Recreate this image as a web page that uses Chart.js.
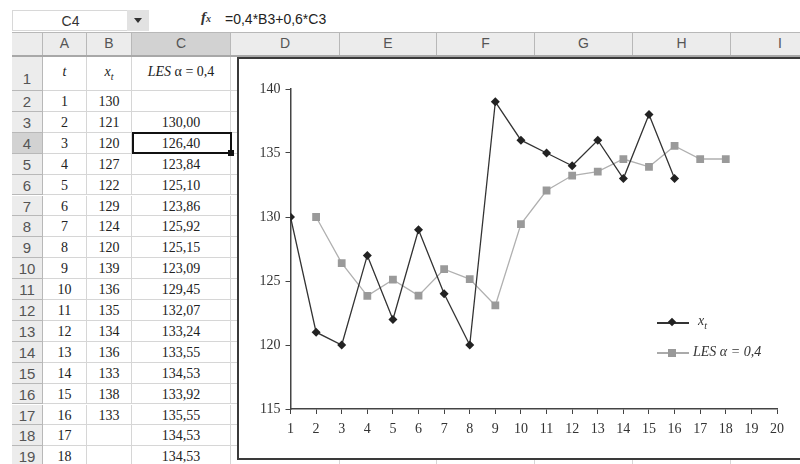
<!DOCTYPE html>
<html>
<head>
<meta charset="utf-8">
<script src="https://cdn.jsdelivr.net/npm/chart.js@4"></script>
<style>
    html, body { margin: 0; padding: 0; }
    body { width: 800px; height: 464px; overflow: hidden; position: relative; background: #fff; font-family: "Liberation Sans", Arial, sans-serif; }
    .abs { position: absolute; box-sizing: border-box; }
    #namebox { left: 12px; top: 10px; width: 116px; height: 21px; border: 1px solid #d8d8d8; border-right: none; font-size: 14px; color: #333; text-align: center; line-height: 20px; }
    #dropdown { left: 127px; top: 10px; width: 22px; height: 21px; background: #e2e2e2; }
    #dropdown::after { content: ''; position: absolute; left: 7px; top: 8px; border-left: 4px solid transparent; border-right: 4px solid transparent; border-top: 5px solid #333; }
    #fx { left: 201px; top: 9px; font-family: "Liberation Serif", serif; font-style: italic; font-weight: bold; font-size: 15px; color: #333; }
    #fx small { font-size: 10px; }
    #formula { left: 225px; top: 11px; font-size: 14px; color: #222; }
    .hdr { background: #ececec; border-right: 1px solid #b8b8b8; border-bottom: 1px solid #b8b8b8; color: #555; font-size: 14px; text-align: center; }
    .hdr.sel { background: #d2d2d2; }
    .cell { border-right: 1px solid #d6d6d6; border-bottom: 1px solid #d6d6d6; font-family: "Liberation Serif", serif; font-size: 14px; color: #222; text-align: center; }
    #headline { left: 12px; top: 32px; width: 800px; height: 1px; background: #b8b8b8; }
    #headline2 { left: 12px; top: 55px; width: 800px; height: 2px; background: #a8a8a8; }
    #selbox { left: 132px; top: 132px; width: 100px; height: 22px; border: 2px solid #111; }
    #selhandle { left: 228px; top: 150px; width: 6px; height: 6px; background: #111; }
    #chartbox { left: 237px; top: 57px; width: 600px; height: 403px; border: 2px solid #3a3a3a; background: #fff; }
    #chart { position: absolute; left: 239px; top: 59px; }
    .leg { font-family: "Liberation Serif", serif; font-size: 14px; color: #333; font-style: italic; }
</style>
</head>
<body>
<div class="abs" id="namebox">C4</div>
<div class="abs" id="dropdown"></div>
<div class="abs" id="fx">f<small>x</small></div>
<div class="abs" id="formula">=0,4*B3+0,6*C3</div>
<div id="sheet"></div>
<div class="abs" id="headline"></div>
<div class="abs" id="headline2"></div>
<div class="abs" id="selbox"></div>
<div class="abs" id="selhandle"></div>
<div class="abs" id="chartbox"></div>
<canvas id="chart" width="561" height="400"></canvas>

<div class="abs" style="left:657px;top:322px;width:32px;height:1.5px;background:#333"></div>
<div class="abs" style="left:669px;top:319px;width:6px;height:6px;background:#222;transform:rotate(45deg)"></div>
<div class="abs leg" style="left:698px;top:313px">x<sub style="font-size:10px">t</sub></div>
<div class="abs" style="left:657px;top:352px;width:32px;height:1.5px;background:#aaa"></div>
<div class="abs" style="left:668px;top:349px;width:8px;height:8px;background:#999"></div>
<div class="abs leg" style="left:693px;top:344px">LES α = 0,4</div>

<script>
const tValues = [1, 2, 3, 4, 5, 6, 7, 8, 9, 10, 11, 12, 13, 14, 15, 16, 17, 18];
const xValues = [130, 121, 120, 127, 122, 129, 124, 120, 139, 136, 135, 134, 136, 133, 138, 133];
const lesValues = [null, 130.00, 126.40, 123.84, 125.10, 123.86, 125.92, 125.15, 123.09, 129.45, 132.07, 133.24, 133.55, 134.53, 133.92, 135.55, 134.53, 134.53];
const yTicks = [115, 120, 125, 130, 135, 140];
const columnLetters = ['A', 'B', 'C', 'D', 'E', 'F', 'G', 'H', 'I'];

// sheet grid
const sheet = document.getElementById('sheet');
const colEdges = [43, 87, 132, 231, 340, 437, 535, 633, 731, 830];
const rowTop = (r) => r === 1 ? 56 : 91 + (r - 2) * 20.9;
const rowHeight = (r) => r === 1 ? 35 : 20.9;

function addDiv(cls, left, top, width, height, html) {
    const d = document.createElement('div');
    d.className = 'abs ' + cls;
    d.style.left = left + 'px';
    d.style.top = top + 'px';
    d.style.width = width + 'px';
    d.style.height = height + 'px';
    d.innerHTML = html;
    sheet.appendChild(d);
    return d;
}

addDiv('hdr', 12, 32, 31, 24, '');
columnLetters.forEach((c, i) => {
    const el = addDiv('hdr' + (c === 'C' ? ' sel' : ''), colEdges[i], 32, colEdges[i + 1] - colEdges[i], 24, c);
    el.style.lineHeight = '22px';
});

for (let r = 1; r <= 19; r++) {
    const top = rowTop(r), h = rowHeight(r);
    const rh = addDiv('hdr' + (r === 4 ? ' sel' : ''), 12, top, 31, h, String(r));
    rh.style.fontSize = '15px';
    rh.style.lineHeight = (r === 1 ? 46 : 21) + 'px';
    for (let c = 0; c < columnLetters.length; c++) {
        let txt = '';
        if (r === 1) {
            if (c === 0) txt = '<i>t</i>';
            if (c === 1) txt = '<i>x<sub style="font-size:10px">t</sub></i>';
            if (c === 2) txt = '<i>LES</i> α = 0,4';
        } else {
            const i = r - 2;
            if (c === 0) txt = String(tValues[i]);
            if (c === 1 && xValues[i] !== undefined) txt = String(xValues[i]);
            if (c === 2 && lesValues[i] !== null) txt = lesValues[i].toFixed(2).replace('.', ',');
        }
        const cell = addDiv('cell', colEdges[c], top, colEdges[c + 1] - colEdges[c], h, txt);
        cell.style.lineHeight = (r === 1 ? 32 : 21) + 'px';
    }
}

// chart
const xSeries = xValues.map((v, i) => ({ x: tValues[i], y: v }));
const lesSeries = [];
lesValues.forEach((v, i) => { if (v !== null) lesSeries.push({ x: tValues[i], y: v }); });

const tickFont = { family: '"Liberation Serif", "Times New Roman", serif', size: 14 };

new Chart(document.getElementById('chart'), {
    type: 'line',
    data: {
        datasets: [{
            label: 'x t',
            data: xSeries,
            borderColor: '#333',
            borderWidth: 1.3,
            pointStyle: 'rectRot',
            pointRadius: 4.5,
            pointBackgroundColor: '#222',
            pointBorderWidth: 0,
            tension: 0
        }, {
            label: 'LES α = 0,4',
            data: lesSeries,
            borderColor: '#b0b0b0',
            borderWidth: 1.3,
            pointStyle: 'rect',
            pointRadius: 5.5,
            pointBackgroundColor: '#9a9a9a',
            pointBorderWidth: 0,
            tension: 0
        }]
    },
    options: {
        responsive: false,
        animation: false,
        layout: { padding: { top: 30, right: 23, left: 0, bottom: 0 } },
        plugins: { legend: { display: false }, tooltip: { enabled: false } },
        scales: {
            x: {
                type: 'linear',
                min: 1,
                max: 20,
                afterFit: (s) => { s.height = 50; },
                grid: { drawOnChartArea: false, tickLength: 5, tickColor: '#444' },
                border: { color: '#444', width: 1.5 },
                ticks: { stepSize: 1, color: '#333', font: tickFont, padding: 7, maxRotation: 0, autoSkip: false }
            },
            y: {
                min: 115,
                max: 140,
                afterFit: (s) => { s.width = 51.5; },
                afterBuildTicks: (s) => { s.ticks = yTicks.map(v => ({ value: v })); },
                grid: { drawOnChartArea: false, tickLength: 5, tickColor: '#444' },
                border: { color: '#444', width: 1.5 },
                ticks: { color: '#333', font: tickFont, padding: 5 }
            }
        }
    }
});
</script>
</body>
</html>
